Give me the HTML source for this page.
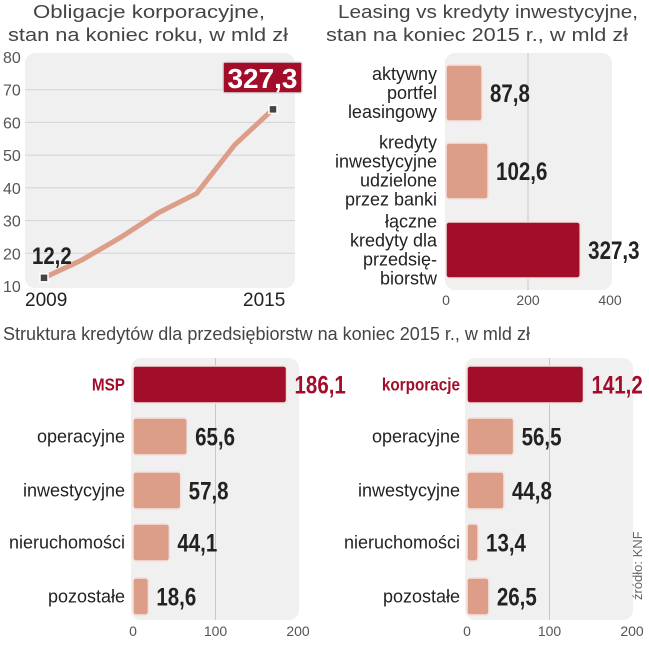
<!DOCTYPE html>
<html><head><meta charset="utf-8"><style>
body{margin:0;background:#fff;}
svg text{font-family:"Liberation Sans",sans-serif;}
</style></head><body>
<svg id="c" width="649" height="640" viewBox="0 0 649 640" xmlns="http://www.w3.org/2000/svg">
<text x="33" y="18" font-size="18" fill="#444" textLength="232" lengthAdjust="spacingAndGlyphs">Obligacje korporacyjne,</text>
<text x="8" y="41" font-size="18" fill="#444" textLength="280" lengthAdjust="spacingAndGlyphs">stan na koniec roku, w mld zł</text>
<text x="338" y="18" font-size="18" fill="#444" textLength="300" lengthAdjust="spacingAndGlyphs">Leasing vs kredyty inwestycyjne,</text>
<text x="326" y="41" font-size="18" fill="#444" textLength="302" lengthAdjust="spacingAndGlyphs">stan na koniec 2015 r., w mld zł</text>
<text x="3" y="340" font-size="18" fill="#444" textLength="527" lengthAdjust="spacingAndGlyphs">Struktura kredytów dla przedsiębiorstw na koniec 2015 r., w mld zł</text>
<g id="g1"></g><g id="g2"></g><g id="g3"></g><g id="g4"></g>
<text transform="translate(642,600) rotate(-90)" font-size="13" fill="#666">źródło: KNF</text>
</svg>
<script>
const lineYears=[2009,2010,2011,2012,2013,2014,2015];
const lineValues=[12.5,18,24.8,32.4,38.3,53.2,64];
const lineTicks=[10,20,30,40,50,60,70,80];
const leasingCats=[["aktywny","portfel","leasingowy"],["kredyty","inwestycyjne","udzielone","przez banki"],["łączne","kredyty dla","przedsię-","biorstw"]];
const leasingValues=[87.8,102.6,327.3];
const leasingTicks=[0,200,400];
const mspCats=["MSP","operacyjne","inwestycyjne","nieruchomości","pozostałe"];
const mspValues=[186.1,65.6,57.8,44.1,18.6];
const korpCats=["korporacje","operacyjne","inwestycyjne","nieruchomości","pozostałe"];
const korpValues=[141.2,56.5,44.8,13.4,26.5];
const structTicks=[0,100,200];
const NS="http://www.w3.org/2000/svg";
function mk(p,t,a,txt){const e=document.createElementNS(NS,t);for(const k in a)e.setAttribute(k,a[k]);if(txt!==undefined)e.textContent=txt;p.appendChild(e);return e;}
function cond(e,s){const x=+e.getAttribute('x');e.setAttribute('transform','translate('+x+',0) scale('+s+',1) translate('+(-x)+',0)');return e;}
const fmt=v=>String(v).replace('.',',');
const RED="#a20d2a",PINK="#dc9e88";
(function(){
const g=document.getElementById('g1');
const y=v=>286-(v-10)*(229/70);
const x=yr=>44+(yr-2009)*(229/6);
let bg=mk(g,'rect',{x:25,y:53,width:270,height:235,rx:10,fill:'#f0f0f1'});


lineTicks.forEach(t=>{
 if(t>10&&t<80){let l=mk(g,'line',{x1:25,x2:295,y1:y(t),y2:y(t),stroke:'#d4d4d6','stroke-width':1});
 
 }
 let tx=mk(g,'text',{x:3,y:y(t)+6,'font-size':16,fill:'#555'},t);
 
 
});
let pts=lineYears.map((yr,i)=>x(yr)+','+y(lineValues[i])).join(' ');
let pl=mk(g,'polyline',{points:pts,fill:'none',stroke:PINK,'stroke-width':5,'stroke-linejoin':'round'});


[0,lineYears.length-1].forEach(i=>{
 let m=mk(g,'rect',{x:x(lineYears[i])-4,y:y(lineValues[i])-4,width:8,height:8,fill:'#444',stroke:'#fff','stroke-width':1.5});
 
 
});
let a=cond(mk(g,'text',{x:32,y:264,'font-size':24,'font-weight':'bold',fill:'#222'},'12,2'),0.85);


let b=mk(g,'rect',{x:223,y:62,width:79,height:31,rx:2,fill:RED,stroke:'#ddd','stroke-width':1.5});


let bt=mk(g,'text',{x:262.5,y:88,'font-size':28,'font-weight':'bold',fill:'#fff','text-anchor':'middle',textLength:70,lengthAdjust:'spacingAndGlyphs'},'327,3');


let x1=mk(g,'text',{x:25,y:306,'font-size':19,fill:'#222'},'2009');


let x2=mk(g,'text',{x:243,y:306,'font-size':19,fill:'#222'},'2015');


})();
(function(){
const g=document.getElementById('g2');
const x=v=>446+v*(82/200);
const tops=[65,143,222],h=56;
let bg=mk(g,'rect',{x:445,y:53,width:167,height:237,rx:10,fill:'#f0f0f1'});


let gl=mk(g,'line',{x1:x(200),x2:x(200),y1:53,y2:290,stroke:'#c8c8ca'});


leasingTicks.forEach(t=>{let tx=mk(g,'text',{x:x(t),y:305,'font-size':14,fill:'#555','text-anchor':'middle'},t);
 
 });
leasingValues.forEach((v,i)=>{
 const last=i===2;
 let r=mk(g,'rect',{x:x(0),y:tops[i],width:x(v)-x(0),height:h,rx:3,fill:last?RED:PINK,stroke:'#f4e0da','stroke-width':1.5});
 
 
 let vt=cond(mk(g,'text',{x:x(v)+8,y:tops[i]+h/2+9,'font-size':25,'font-weight':'bold',fill:'#222'},fmt(v)),0.82);
 
 
 const lines=leasingCats[i];const n=lines.length;
 lines.forEach((s,j)=>{let lt=mk(g,'text',{x:437,y:tops[i]+h/2+6+(j-(n-1)/2)*19,'font-size':18,fill:'#222','text-anchor':'end'},s);
  
  });
});
})();
function struct(id,x0,labelX,cats,vals){
const g=document.getElementById(id);
const x=v=>x0+v*0.825;
const tops=[366,418,472,524,578],h=37;
let bg=mk(g,'rect',{x:x0-2,y:358,width:168,height:262,rx:10,fill:'#f0f0f1'});


let gl=mk(g,'line',{x1:x(100),x2:x(100),y1:358,y2:620,stroke:'#c8c8ca'});


structTicks.forEach(t=>{let tx=mk(g,'text',{x:x(t),y:636,'font-size':14,fill:'#555','text-anchor':'middle'},t);
 
 });
vals.forEach((v,i)=>{
 const first=i===0;
 let r=mk(g,'rect',{x:x(0),y:tops[i],width:x(v)-x(0),height:h,rx:3,fill:first?RED:PINK,stroke:'#f4e0da','stroke-width':1.5});
 
 
 let vt=cond(mk(g,'text',{x:x(v)+8,y:tops[i]+h/2+9,'font-size':25,'font-weight':'bold',fill:first?RED:'#222'},fmt(v)),0.82);
 
 
 let lt=mk(g,'text',{x:labelX,y:tops[i]+h/2+6,'font-size':18,'font-weight':first?'bold':'normal',fill:first?RED:'#222','text-anchor':'end'},cats[i]);
 if(first)cond(lt,0.85);
 
 
});
}
struct('g3',133,125,mspCats,mspValues);
struct('g4',467,460,korpCats,korpValues);
</script>
</body></html>
